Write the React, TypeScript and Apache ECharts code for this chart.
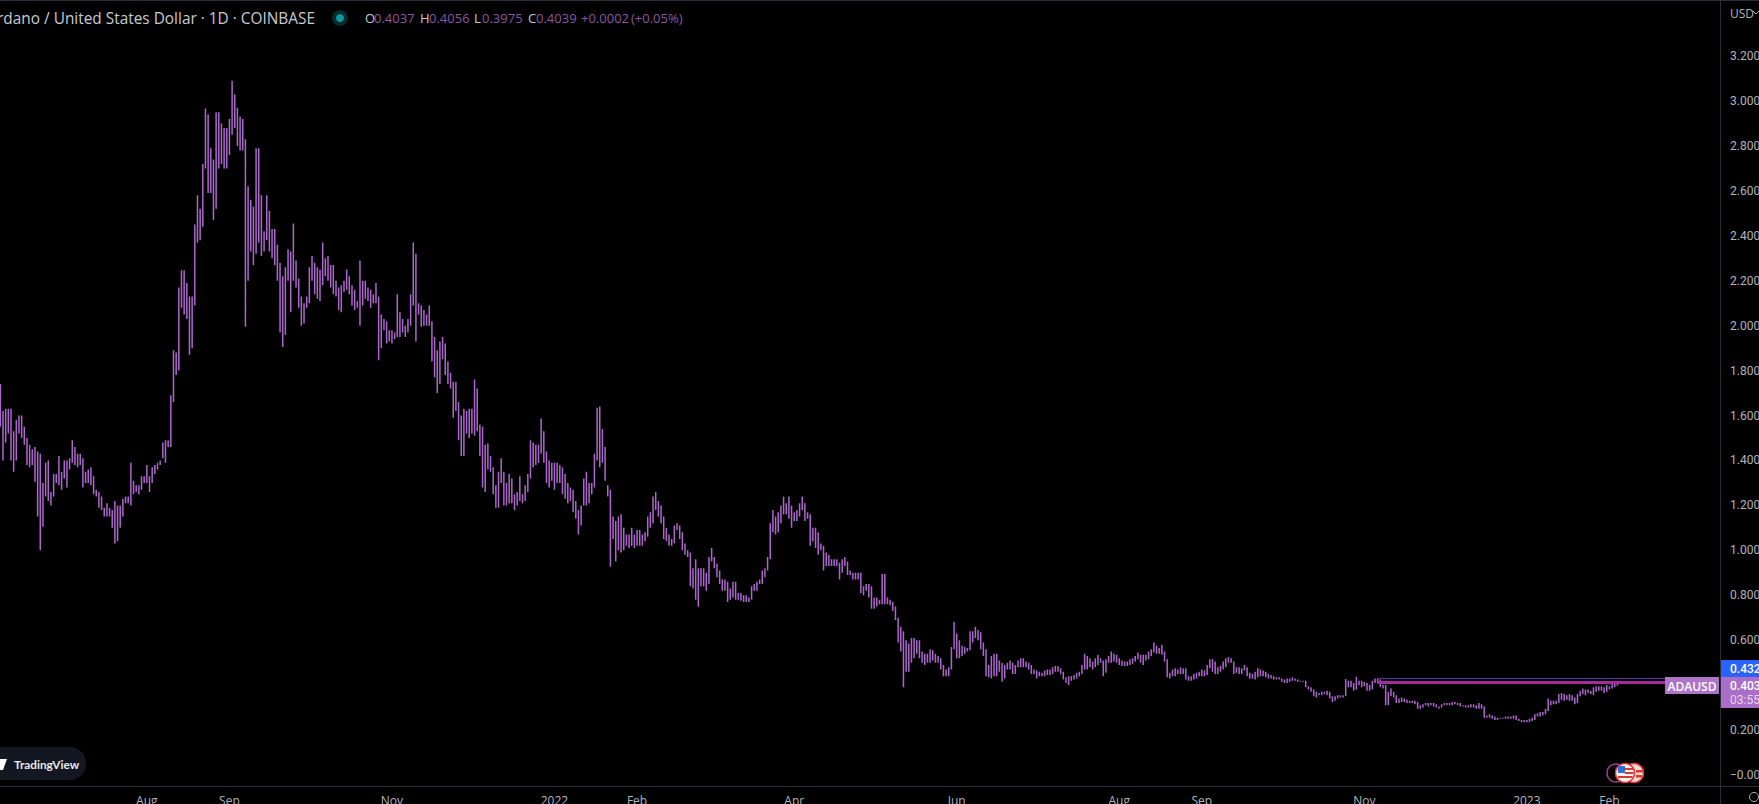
import React, { useEffect, useRef } from "react";
import * as echarts from "echarts";

const firstDay = "2021-06-07";
const totalSlots = 646;
const firstOpen = 1.67;

const closes = [
1.565,1.58,1.565,1.624,1.528,1.432,1.55,1.565,1.55,1.483,
1.476,1.38,1.409,1.38,1.417,1.157,1.246,1.357,1.246,1.246,
1.335,1.328,1.372,1.328,1.38,1.394,1.402,1.458,1.402,1.402,
1.402,1.32,1.343,1.328,1.34,1.305,1.261,1.257,1.202,1.164,
1.167,1.176,1.12,1.12,1.046,1.157,1.187,1.224,1.227,1.224,
1.276,1.28,1.28,1.31,1.316,1.316,1.31,1.365,1.369,1.38,
1.394,1.469,1.417,1.469,1.669,1.82,1.82,2.136,2.18,2.158,
2.069,1.913,2.098,2.44,2.447,2.452,2.707,2.914,2.714,2.736,
2.529,2.944,2.84,2.848,2.729,2.766,2.9,2.959,2.959,2.828,
2.907,2.828,2.514,2.462,2.514,2.38,2.625,2.581,2.395,2.395,
2.499,2.395,2.365,2.343,2.276,2.076,1.98,2.254,2.321,2.269,
2.294,2.202,2.128,2.032,2.039,2.106,2.247,2.247,2.247,2.187,
2.21,2.247,2.269,2.232,2.262,2.18,2.165,2.113,2.173,2.187,
2.21,2.173,2.173,2.113,2.098,2.18,2.128,2.158,2.158,2.113,
2.136,2.128,1.905,2.01,2.01,1.95,1.957,1.957,1.965,2.054,
1.98,1.995,1.98,2.024,2.128,2.262,2.098,2.091,2.046,2.039,
2.039,2.017,1.869,1.869,1.788,1.862,1.914,1.832,1.78,1.743,
1.661,1.661,1.535,1.535,1.587,1.55,1.55,1.543,1.716,1.55,
1.55,1.417,1.372,1.417,1.372,1.283,1.201,1.345,1.345,1.209,
1.261,1.305,1.238,1.209,1.238,1.238,1.231,1.276,1.32,1.476,
1.387,1.454,1.454,1.513,1.439,1.394,1.32,1.372,1.305,1.372,
1.372,1.305,1.298,1.224,1.276,1.201,1.172,1.12,1.179,1.305,
1.224,1.291,1.286,1.417,1.597,1.409,1.454,1.328,1.253,1.068,
1.12,1.068,1.061,1.068,1.038,1.038,1.046,1.049,1.046,1.083,
1.024,1.053,1.068,1.127,1.135,1.194,1.194,1.194,1.15,1.083,
1.053,1.038,1.031,1.098,1.105,1.075,1.016,0.99,0.986,0.856,
0.89,0.856,0.883,0.856,0.897,0.853,0.96,0.964,0.935,0.897,
0.868,0.831,0.86,0.782,0.794,0.849,0.794,0.794,0.794,0.783,
0.783,0.783,0.831,0.834,0.849,0.86,0.897,0.909,0.964,1.105,
1.123,1.093,1.15,1.179,1.179,1.187,1.187,1.138,1.15,1.157,
1.194,1.206,1.164,1.164,1.049,1.083,1.019,1.022,1.019,0.915,
0.972,0.942,0.949,0.946,0.942,0.912,0.942,0.949,0.905,0.9,
0.89,0.883,0.894,0.823,0.831,0.838,0.838,0.786,0.749,0.779,
0.771,0.894,0.771,0.779,0.771,0.749,0.734,0.601,0.623,0.467,
0.467,0.519,0.593,0.549,0.578,0.549,0.504,0.526,0.511,0.526,
0.534,0.511,0.511,0.474,0.452,0.449,0.474,0.563,0.623,0.541,
0.549,0.559,0.559,0.559,0.603,0.623,0.63,0.63,0.571,0.549,
0.482,0.44,0.482,0.526,0.474,0.474,0.445,0.482,0.482,0.489,
0.452,0.482,0.489,0.489,0.497,0.489,0.482,0.459,0.459,0.448,
0.449,0.449,0.459,0.452,0.459,0.467,0.47,0.467,0.459,0.43,
0.415,0.43,0.43,0.437,0.445,0.452,0.482,0.511,0.485,0.489,
0.482,0.511,0.511,0.511,0.459,0.504,0.514,0.519,0.519,0.514,
0.504,0.494,0.494,0.494,0.504,0.511,0.526,0.529,0.504,0.526,
0.519,0.541,0.549,0.563,0.549,0.549,0.549,0.511,0.44,0.445,
0.459,0.459,0.459,0.464,0.459,0.43,0.425,0.43,0.445,0.445,
0.448,0.452,0.452,0.479,0.504,0.5,0.459,0.47,0.474,0.482,
0.508,0.511,0.504,0.459,0.474,0.455,0.47,0.479,0.445,0.437,
0.442,0.437,0.449,0.455,0.452,0.44,0.44,0.437,0.43,0.43,
0.43,0.422,0.414,0.418,0.427,0.427,0.422,0.419,0.418,0.418,
0.393,0.385,0.378,0.356,0.36,0.36,0.363,0.366,0.36,0.348,
0.33,0.341,0.348,0.351,0.351,0.401,0.396,0.405,0.381,0.405,
0.416,0.401,0.401,0.381,0.381,0.416,0.42,0.42,0.396,0.396,
0.312,0.364,0.367,0.349,0.327,0.331,0.334,0.33,0.324,0.325,
0.324,0.322,0.297,0.301,0.312,0.316,0.312,0.313,0.31,0.304,
0.301,0.312,0.313,0.316,0.315,0.319,0.319,0.316,0.307,0.307,
0.306,0.306,0.304,0.307,0.3,0.31,0.301,0.257,0.26,0.263,
0.257,0.251,0.251,0.252,0.254,0.255,0.255,0.255,0.26,0.248,
0.242,0.239,0.239,0.24,0.248,0.248,0.267,0.267,0.272,0.275,
0.289,0.312,0.319,0.322,0.322,0.346,0.346,0.346,0.344,0.341,
0.341,0.322,0.356,0.364,0.376,0.371,0.371,0.364,0.376,0.378,
0.386,0.386,0.371,0.393,0.386,0.396,0.402,0.4039,
];

const highs = [
1.74,1.62,1.63,1.63,1.63,1.53,1.58,1.6,1.6,1.55,
1.5,1.47,1.45,1.46,1.44,1.43,1.3,1.39,1.4,1.26,
1.34,1.34,1.42,1.35,1.4,1.4,1.41,1.49,1.46,1.43,
1.43,1.41,1.35,1.36,1.37,1.33,1.27,1.26,1.24,1.19,
1.21,1.19,1.18,1.22,1.2,1.2,1.23,1.24,1.24,1.39,
1.31,1.29,1.29,1.33,1.33,1.38,1.33,1.37,1.38,1.39,
1.4,1.48,1.49,1.49,1.69,1.89,1.88,2.17,2.247,2.247,
2.19,2.13,2.13,2.45,2.58,2.52,2.72,2.966,2.94,2.79,
2.74,2.95,2.95,2.9,2.88,2.88,2.92,3.09,3.03,2.97,
2.93,2.92,2.83,2.62,2.56,2.53,2.79,2.79,2.58,2.42,
2.58,2.51,2.43,2.43,2.36,2.28,2.22,2.26,2.34,2.33,
2.455,2.29,2.21,2.13,2.1,2.13,2.26,2.31,2.28,2.26,
2.25,2.37,2.3,2.31,2.27,2.27,2.2,2.17,2.18,2.2,
2.25,2.22,2.18,2.16,2.11,2.29,2.2,2.2,2.17,2.16,
2.14,2.19,2.13,2.05,2.03,2.02,1.98,1.98,1.97,2.14,
2.06,2.03,2,2.03,2.14,2.37,2.32,2.1,2.09,2.07,
2.05,2.09,2.02,1.95,1.89,1.93,1.95,1.92,1.84,1.79,
1.75,1.75,1.66,1.6,1.63,1.62,1.63,1.63,1.76,1.72,
1.56,1.55,1.47,1.475,1.42,1.37,1.29,1.35,1.41,1.35,
1.3,1.34,1.32,1.25,1.26,1.33,1.25,1.29,1.34,1.49,
1.48,1.47,1.47,1.587,1.53,1.44,1.4,1.39,1.39,1.39,
1.38,1.37,1.34,1.3,1.28,1.27,1.22,1.18,1.2,1.32,
1.35,1.3,1.3,1.43,1.635,1.64,1.54,1.46,1.29,1.27,
1.15,1.13,1.15,1.16,1.1,1.07,1.07,1.1,1.07,1.09,
1.09,1.07,1.08,1.15,1.17,1.24,1.26,1.22,1.2,1.15,
1.1,1.07,1.05,1.11,1.12,1.11,1.08,1.03,1,0.99,
0.92,0.96,0.92,0.92,0.92,0.9,0.97,1.01,0.97,0.94,
0.91,0.87,0.87,0.86,0.83,0.86,0.86,0.81,0.81,0.8,
0.8,0.79,0.84,0.85,0.86,0.87,0.91,0.92,0.97,1.12,
1.18,1.15,1.17,1.2,1.24,1.21,1.24,1.2,1.17,1.18,
1.21,1.24,1.21,1.17,1.16,1.1,1.1,1.08,1.03,1.02,
0.99,0.98,0.96,0.96,0.96,0.945,0.96,0.97,0.95,0.91,
0.9,0.9,0.9,0.9,0.84,0.85,0.85,0.84,0.79,0.79,
0.78,0.895,0.895,0.79,0.78,0.77,0.75,0.7,0.66,0.64,
0.6,0.585,0.61,0.61,0.6,0.6,0.55,0.54,0.54,0.56,
0.555,0.54,0.53,0.52,0.49,0.47,0.48,0.57,0.682,0.63,
0.6,0.575,0.57,0.565,0.64,0.64,0.66,0.645,0.635,0.59,
0.56,0.49,0.53,0.54,0.54,0.51,0.5,0.49,0.5,0.51,
0.5,0.49,0.51,0.52,0.52,0.505,0.5,0.49,0.47,0.465,
0.46,0.455,0.465,0.47,0.47,0.48,0.485,0.485,0.475,0.46,
0.435,0.44,0.44,0.445,0.455,0.46,0.49,0.54,0.53,0.52,
0.505,0.52,0.535,0.52,0.51,0.515,0.53,0.55,0.54,0.535,
0.52,0.51,0.505,0.505,0.515,0.52,0.53,0.545,0.535,0.535,
0.535,0.55,0.56,0.59,0.575,0.565,0.58,0.55,0.515,0.455,
0.47,0.475,0.47,0.48,0.475,0.475,0.44,0.44,0.45,0.455,
0.46,0.47,0.465,0.49,0.515,0.515,0.505,0.48,0.485,0.505,
0.52,0.525,0.52,0.505,0.48,0.48,0.475,0.49,0.48,0.455,
0.45,0.46,0.475,0.47,0.465,0.46,0.45,0.445,0.44,0.435,
0.435,0.43,0.425,0.43,0.43,0.435,0.43,0.425,0.42,0.42,
0.42,0.395,0.39,0.38,0.37,0.365,0.37,0.37,0.375,0.37,
0.35,0.35,0.355,0.355,0.355,0.427,0.42,0.42,0.41,0.437,
0.42,0.42,0.415,0.41,0.4,0.42,0.43,0.43,0.425,0.4,
0.4,0.37,0.385,0.37,0.355,0.34,0.345,0.34,0.335,0.33,
0.33,0.33,0.325,0.31,0.315,0.32,0.32,0.32,0.32,0.315,
0.305,0.315,0.32,0.32,0.32,0.325,0.325,0.32,0.32,0.31,
0.31,0.31,0.315,0.315,0.31,0.32,0.315,0.305,0.265,0.27,
0.265,0.26,0.255,0.255,0.255,0.26,0.26,0.26,0.265,0.265,
0.25,0.245,0.245,0.245,0.25,0.255,0.27,0.275,0.28,0.28,
0.295,0.34,0.33,0.33,0.33,0.36,0.365,0.36,0.355,0.36,
0.355,0.345,0.36,0.375,0.385,0.38,0.38,0.375,0.39,0.395,
0.395,0.395,0.39,0.4,0.395,0.41,0.415,0.4056,
];

const lows = [
1.55,1.4,1.48,1.52,1.4,1.35,1.4,1.52,1.5,1.47,
1.38,1.37,1.38,1.305,1.15,1,1.105,1.24,1.22,1.2,
1.24,1.3,1.29,1.27,1.32,1.28,1.36,1.39,1.38,1.37,
1.38,1.28,1.3,1.3,1.29,1.25,1.24,1.19,1.18,1.15,
1.15,1.15,1.1,1.03,1.04,1.1,1.15,1.21,1.21,1.2,
1.25,1.26,1.25,1.27,1.3,1.3,1.26,1.3,1.34,1.36,
1.38,1.41,1.39,1.46,1.46,1.66,1.78,1.8,2.08,2.05,
2.03,1.87,1.9,2.09,2.37,2.38,2.44,2.7,2.59,2.59,
2.47,2.52,2.7,2.72,2.7,2.7,2.76,2.85,2.88,2.8,
2.78,2.78,1.995,2.2,2.33,2.27,2.32,2.37,2.31,2.33,
2.38,2.33,2.3,2.27,2.2,1.97,1.905,1.96,2.2,2.06,
2.2,2.17,2.08,2,2.01,2.08,2.1,2.2,2.14,2.12,
2.11,2.18,2.22,2.2,2.17,2.14,2.13,2.07,2.06,2.15,
2.16,2.14,2.09,2.07,2.08,2,2.09,2.12,2.11,2.08,
2.1,2.1,1.846,1.9,1.98,1.92,1.93,1.92,1.94,1.95,
1.95,1.97,1.95,1.97,2,2.09,1.93,2.05,1.995,2,
2,2,1.84,1.77,1.7,1.74,1.85,1.78,1.74,1.72,
1.59,1.62,1.49,1.42,1.42,1.52,1.5,1.52,1.51,1.53,
1.42,1.28,1.26,1.36,1.35,1.25,1.19,1.19,1.3,1.2,
1.2,1.21,1.21,1.18,1.2,1.22,1.21,1.22,1.26,1.32,
1.37,1.38,1.39,1.43,1.39,1.3,1.28,1.31,1.27,1.3,
1.3,1.25,1.23,1.21,1.22,1.17,1.14,1.07,1.11,1.2,
1.2,1.21,1.25,1.28,1.4,1.37,1.39,1.31,1.24,0.927,
1.05,0.95,1,0.99,1,1.02,1.01,1.02,1.01,1.02,
1.02,1.02,1.04,1.06,1.1,1.12,1.18,1.15,1.12,1.05,
1.04,1.02,1.02,1.03,1.09,1.05,1,0.98,0.97,0.84,
0.83,0.78,0.749,0.84,0.84,0.82,0.85,0.95,0.92,0.88,
0.85,0.82,0.82,0.77,0.78,0.79,0.78,0.78,0.775,0.77,
0.77,0.77,0.78,0.82,0.82,0.85,0.85,0.88,0.91,0.96,
1.08,1.07,1.08,1.12,1.16,1.16,1.14,1.1,1.13,1.13,
1.15,1.18,1.13,1.14,1.02,1.04,1.01,0.98,1,0.91,
0.93,0.93,0.93,0.93,0.93,0.87,0.9,0.93,0.89,0.89,
0.87,0.87,0.87,0.81,0.8,0.82,0.79,0.74,0.74,0.75,
0.76,0.76,0.76,0.76,0.755,0.73,0.69,0.59,0.55,0.39,
0.46,0.46,0.5,0.52,0.54,0.52,0.5,0.49,0.5,0.5,
0.51,0.5,0.5,0.47,0.44,0.44,0.44,0.47,0.56,0.52,
0.52,0.53,0.54,0.55,0.555,0.59,0.61,0.6,0.56,0.53,
0.44,0.435,0.43,0.44,0.44,0.46,0.415,0.43,0.47,0.47,
0.45,0.45,0.48,0.48,0.48,0.48,0.47,0.45,0.45,0.43,
0.44,0.44,0.44,0.445,0.445,0.45,0.46,0.46,0.45,0.425,
0.41,0.4,0.42,0.425,0.43,0.44,0.45,0.47,0.47,0.48,
0.47,0.48,0.49,0.5,0.44,0.455,0.5,0.5,0.505,0.5,
0.49,0.485,0.485,0.485,0.49,0.495,0.505,0.515,0.5,0.49,
0.51,0.515,0.53,0.545,0.54,0.54,0.535,0.505,0.435,0.43,
0.44,0.44,0.45,0.45,0.45,0.425,0.42,0.42,0.425,0.43,
0.44,0.44,0.44,0.445,0.475,0.46,0.45,0.45,0.46,0.47,
0.48,0.5,0.5,0.45,0.455,0.45,0.45,0.465,0.44,0.43,
0.43,0.425,0.435,0.44,0.44,0.435,0.43,0.43,0.425,0.425,
0.425,0.415,0.41,0.41,0.415,0.42,0.42,0.415,0.415,0.415,
0.39,0.38,0.37,0.35,0.345,0.355,0.355,0.36,0.355,0.34,
0.325,0.33,0.34,0.345,0.345,0.35,0.39,0.39,0.375,0.38,
0.4,0.39,0.395,0.375,0.375,0.38,0.41,0.41,0.39,0.385,
0.31,0.31,0.35,0.345,0.32,0.32,0.325,0.325,0.32,0.32,
0.32,0.315,0.295,0.295,0.3,0.31,0.305,0.31,0.305,0.3,
0.295,0.3,0.31,0.31,0.31,0.31,0.315,0.31,0.305,0.305,
0.3,0.3,0.3,0.3,0.295,0.295,0.295,0.255,0.255,0.255,
0.25,0.245,0.245,0.25,0.25,0.25,0.25,0.25,0.25,0.245,
0.24,0.235,0.235,0.235,0.235,0.24,0.245,0.26,0.26,0.265,
0.27,0.285,0.31,0.315,0.315,0.32,0.335,0.33,0.335,0.33,
0.33,0.315,0.32,0.35,0.36,0.355,0.365,0.36,0.355,0.37,
0.375,0.375,0.365,0.37,0.38,0.385,0.39,0.3975,
];

const xTickLabels: Record<string, string> = {
  "2021-08-01": "Aug", "2021-09-01": "Sep", "2021-11-01": "Nov",
  "2022-01-01": "2022", "2022-02-01": "Feb", "2022-04-01": "Apr",
  "2022-06-01": "Jun", "2022-08-01": "Aug", "2022-09-01": "Sep",
  "2022-11-01": "Nov", "2023-01-01": "2023", "2023-02-01": "Feb",
};
const yTicks = [0, 0.2, 0.4, 0.6, 0.8, 1, 1.2, 1.4, 1.6, 1.8, 2, 2.2, 2.4, 2.6, 2.8, 3, 3.2];
const alertLevel = 0.432;
const drawnLevel = 0.411;
const levelStartDay = "2022-11-06";
const drawnEndDay = "2023-02-22";

const FONT = "'Open Sans', 'Noto Sans', sans-serif";
const NUM = "Roboto, 'Open Sans', sans-serif";
const AXIS = "#2a2e39";
const LABEL = "#b2b5be";
const VAL = "#8b57a3";

export default function App() {
  const ref = useRef<HTMLDivElement>(null);
  useEffect(() => {
    document.body.style.margin = "0";
    document.body.style.background = "#000";
    const chart = echarts.init(ref.current!, undefined, { renderer: "svg" });
    const start = Date.parse(firstDay + "T00:00:00Z");
    const days: string[] = [];
    for (let i = 0; i < totalSlots; i++) {
      days.push(new Date(start + i * 86400000).toISOString().slice(0, 10));
    }
    const candles = closes.map((c, i) => [i === 0 ? firstOpen : closes[i - 1], c, lows[i], highs[i]]);
    const txt = (text: string, x: number, y: number, fill: string, font: string, align = "left") => ({
      type: "text", z: 50, silent: true,
      style: { text, x, y, fill, font, textAlign: align, textVerticalAlign: "middle", align, verticalAlign: "middle" },
    });
    const hdr = `13px ${FONT}`;
    const graphic: any[] = [
      { type: "rect", z: 40, shape: { x: 0, y: 0, width: 1759, height: 1 }, style: { fill: AXIS } },
      { type: "rect", z: 40, shape: { x: 1720, y: 0, width: 1, height: 804 }, style: { fill: AXIS } },
      { type: "rect", z: 40, shape: { x: 0, y: 786, width: 1759, height: 1 }, style: { fill: AXIS } },
      txt("Cardano / United States Dollar · 1D · COINBASE", 315, 18, "#c8cad0", `15.4px ${FONT}`, "right"),
      { type: "circle", z: 50, shape: { cx: 340, cy: 18, r: 8 }, style: { fill: "#0a2a2c" } },
      { type: "circle", z: 51, shape: { cx: 340, cy: 18, r: 4 }, style: { fill: "#0e9a9c" } },
      txt("O", 365, 18, "#c8cad0", hdr),
      txt("0.4037", 374, 18, VAL, hdr),
      txt("H", 420, 18, "#c8cad0", hdr),
      txt("0.4056", 429, 18, VAL, hdr),
      txt("L", 474, 18, "#c8cad0", hdr),
      txt("0.3975", 482, 18, VAL, hdr),
      txt("C", 528, 18, "#c8cad0", hdr),
      txt("0.4039", 536, 18, VAL, hdr),
      txt("+0.0002", 581, 18, VAL, hdr),
      txt("(+0.05%)", 631, 18, VAL, hdr),
      txt("USD", 1730, 13, LABEL, `12px ${FONT}`),
      { type: "polyline", z: 50, shape: { points: [[1753, 11], [1756, 14], [1759, 11]] }, style: { stroke: LABEL, fill: "none", lineWidth: 1 } },
      { type: "rect", z: 45, shape: { x: 1721, y: 660, width: 38, height: 17 }, style: { fill: "#2962ff" } },
      txt("0.432", 1730, 669, "#ffffff", `500 12px ${NUM}`),
      { type: "rect", z: 45, shape: { x: 1721, y: 677, width: 38, height: 31 }, style: { fill: "#ab6ec8" } },
      txt("0.403", 1730, 686, "#ffffff", `500 12px ${NUM}`),
      txt("03:55", 1730, 700, "#e6d3ee", `12px ${NUM}`),
      { type: "rect", z: 45, shape: { x: 1665, y: 677, width: 54, height: 17 }, style: { fill: "#ad74c8" } },
      txt("ADAUSD", 1692, 686, "#ffffff", `600 12px ${FONT}`, "center"),
      { type: "rect", z: 45, shape: { x: -20, y: 747, width: 106, height: 33, r: 16 }, style: { fill: "#131722" } },
      { type: "polygon", z: 46, shape: { points: [[0, 759], [7, 759], [3, 770], [0, 770]] }, style: { fill: "#ffffff" } },
      txt("TradingView", 14, 764, "#e8e9ec", `bold 11.8px Lato, ${FONT}`),
      { type: "circle", z: 41, shape: { cx: 1616, cy: 773, r: 9 }, style: { fill: "#000", stroke: "#a0408f", lineWidth: 1.5 } },
      { type: "circle", z: 42, shape: { cx: 1634, cy: 773, r: 9.5 }, style: { fill: "#f5d8d8", stroke: "#e53935", lineWidth: 1.5 } },
      { type: "rect", z: 43, shape: { x: 1636, y: 770, width: 7, height: 2.5 }, style: { fill: "#d63a35" } },
      { type: "rect", z: 43, shape: { x: 1636, y: 775, width: 6, height: 2.5 }, style: { fill: "#d63a35" } },
      { type: "circle", z: 44, shape: { cx: 1625, cy: 773, r: 9.5 }, style: { fill: "#f2f2f2", stroke: "#e53935", lineWidth: 1.5 } },
      { type: "rect", z: 45, shape: { x: 1618, y: 766, width: 7, height: 7 }, style: { fill: "#2f6fd6" } },
      { type: "rect", z: 45, shape: { x: 1625, y: 768, width: 8, height: 2 }, style: { fill: "#d63a35" } },
      { type: "rect", z: 45, shape: { x: 1625, y: 772, width: 8.5, height: 2 }, style: { fill: "#d63a35" } },
      { type: "rect", z: 45, shape: { x: 1618, y: 776, width: 14.5, height: 2 }, style: { fill: "#d63a35" } },
      { type: "circle", z: 41, shape: { cx: 1754, cy: 797, r: 4.5 }, style: { fill: "none", stroke: LABEL, lineWidth: 1 } },
    ];
    chart.setOption({
      animation: false,
      backgroundColor: "#000000",
      graphic,
      grid: { left: -1, right: 39, top: 1, bottom: 18, outerBoundsMode: "none", containLabel: false },
      xAxis: {
        type: "category",
        data: days,
        boundaryGap: true,
        axisLine: { show: false },
        axisTick: { show: false },
        splitLine: { show: false },
        axisLabel: {
          color: LABEL, fontFamily: FONT, fontSize: 12, margin: 8,
          interval: (_i: number, v: string) => v in xTickLabels,
          formatter: (v: string) => xTickLabels[v] ?? "",
        },
      },
      yAxis: {
        type: "value",
        position: "right",
        scale: false,
        min: -0.049,
        max: 3.445,
        axisLine: { show: false },
        axisTick: { show: false },
        splitLine: { show: false },
        axisLabel: {
          color: LABEL, fontFamily: NUM, fontSize: 12, margin: 10, align: "left",
          customValues: yTicks,
          formatter: (v: number) => (v === 0 ? "−0.000" : v.toFixed(3)),
        },
      },
      series: [
        {
          type: "candlestick",
          data: candles,
          barWidth: 3,
          itemStyle: { color: "#b368d6", color0: "#b368d6", borderColor: "#ad66ce", borderColor0: "#ad66ce", borderWidth: 1.5 },
          markLine: {
            silent: true, symbol: "none", label: { show: false }, animation: false,
            data: [
              [
                { coord: [levelStartDay, alertLevel], lineStyle: { color: "#4b3aa8", width: 1, type: "solid" } },
                { coord: [days[days.length - 1], alertLevel] },
              ],
              [
                { coord: [levelStartDay, drawnLevel], lineStyle: { color: "#a62b98", width: 3, type: "solid" } },
                { coord: [drawnEndDay, drawnLevel] },
              ],
            ],
          },
        },
      ],
    });
    return () => chart.dispose();
  }, []);
  return <div ref={ref} style={{ position: "fixed", left: 0, top: 0, width: 1759, height: 804 }} />;
}
